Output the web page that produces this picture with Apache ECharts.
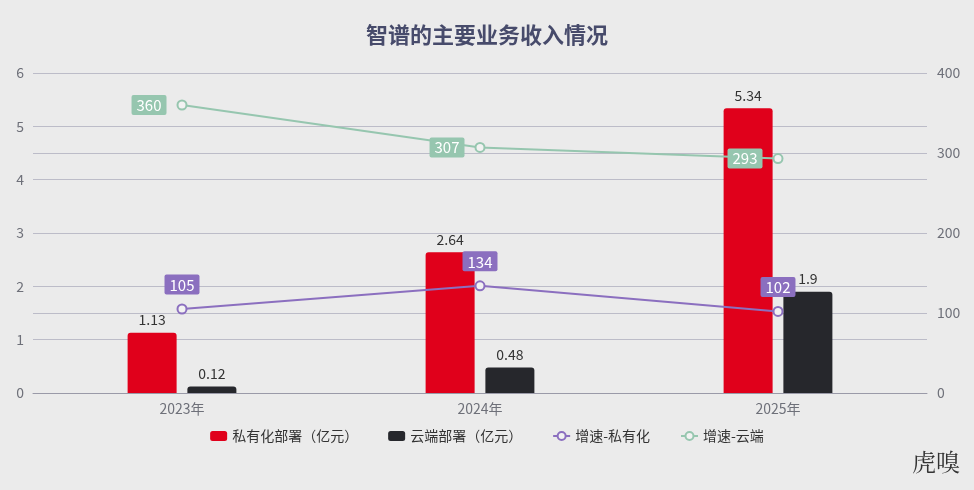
<!DOCTYPE html>
<html>
<head>
<meta charset="utf-8">
<script src="https://cdn.jsdelivr.net/npm/echarts@6/dist/echarts.min.js"></script>
<style>
  html, body { margin: 0; padding: 0; background: #ebebeb; }
  #chart { width: 974px; height: 490px; }
</style>
</head>
<body>
<div id="chart"></div>
<script>
var years = ['2023年', '2024年', '2025年']
var privateRevenue = [1.13, 2.64, 5.34] // 私有化部署（亿元）
var cloudRevenue = [0.12, 0.48, 1.9] // 云端部署（亿元）
var privateGrowth = [105, 134, 102] // 增速-私有化
var cloudGrowth = [360, 307, 293] // 增速-云端

var font = '"Noto Sans CJK SC", "Noto Sans", sans-serif'
var gridColor = '#bcbcc8'

var chart = echarts.init(document.getElementById('chart'))
chart.setOption({
  backgroundColor: '#ebebeb',
  textStyle: { fontFamily: font },
  title: {
    text: '智谱的主要业务收入情况',
    left: 'center',
    top: 19,
    textStyle: { fontSize: 22, fontWeight: 'bold', color: '#474b6b', fontFamily: font }
  },
  legend: {
    bottom: 42,
    itemWidth: 17,
    itemHeight: 10,
    itemGap: 30,
    textStyle: { fontSize: 14, color: '#333' },
    data: [
      { name: '私有化部署（亿元）', icon: 'roundRect' },
      { name: '云端部署（亿元）', icon: 'roundRect' },
      '增速-私有化',
      '增速-云端'
    ]
  },
  grid: { left: 33, right: 47, top: 73, bottom: 97 },
  xAxis: {
    type: 'category',
    data: years,
    axisTick: { show: false },
    axisLine: { lineStyle: { color: '#9a9aa8' } },
    axisLabel: { fontSize: 14, color: '#6e7079', margin: 9 }
  },
  yAxis: [
    {
      type: 'value',
      min: 0,
      max: 6,
      interval: 1,
      axisLabel: { fontSize: 14, color: '#6e7079', margin: 9 },
      splitLine: { lineStyle: { color: gridColor } }
    },
    {
      type: 'value',
      min: 0,
      max: 400,
      interval: 100,
      axisLabel: { fontSize: 14, color: '#6e7079', margin: 10 },
      splitLine: { lineStyle: { color: gridColor } }
    }
  ],
  series: [
    {
      name: '私有化部署（亿元）',
      type: 'bar',
      data: privateRevenue,
      barWidth: 49,
      barGap: '22%',
      itemStyle: { color: '#e0001b', borderRadius: [3, 3, 0, 0] },
      label: { show: true, position: 'top', fontSize: 14, color: '#333', distance: 6 }
    },
    {
      name: '云端部署（亿元）',
      type: 'bar',
      data: cloudRevenue,
      barWidth: 49,
      itemStyle: { color: '#26272c', borderRadius: [3, 3, 0, 0] },
      label: { show: true, position: 'top', fontSize: 14, color: '#333', distance: 6 }
    },
    {
      name: '增速-私有化',
      type: 'line',
      yAxisIndex: 1,
      data: privateGrowth,
      symbol: 'circle',
      symbolSize: 9,
      itemStyle: { color: '#f2f2f2', borderColor: '#8b6fbf', borderWidth: 2 },
      lineStyle: { color: '#8b6fbf', width: 2 },
      label: {
        show: true,
        position: 'top',
        distance: 9,
        fontSize: 15,
        color: '#fff',
        backgroundColor: '#8b6fbf',
        padding: [3, 5, 2, 5],
        borderRadius: 2
      }
    },
    {
      name: '增速-云端',
      type: 'line',
      yAxisIndex: 1,
      data: cloudGrowth,
      symbol: 'circle',
      symbolSize: 9,
      itemStyle: { color: '#f2f2f2', borderColor: '#96c6af', borderWidth: 2 },
      lineStyle: { color: '#96c6af', width: 2 },
      label: {
        show: true,
        position: 'left',
        distance: 10,
        fontSize: 15,
        color: '#fff',
        backgroundColor: '#96c6af',
        padding: [3, 5, 2, 5],
        borderRadius: 2
      }
    }
  ],
  graphic: [
    {
      type: 'text',
      right: 14,
      bottom: 16,
      style: { text: '虎嗅', fontSize: 24, fill: '#333', fontFamily: '"Noto Serif CJK SC", "Noto Sans CJK SC", serif' }
    }
  ]
})
</script>
</body>
</html>
